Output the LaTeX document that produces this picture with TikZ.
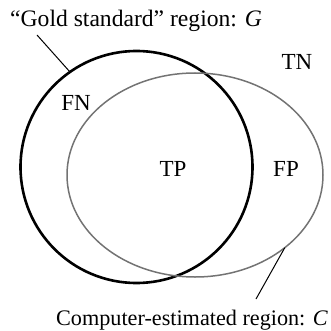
\documentclass[tikz,border=0pt]{standalone}
\usepackage{fontspec}
\setmainfont{Liberation Serif}
\usetikzlibrary{shapes.geometric}
\tikzset{
	region/.style={draw, inner sep=0pt, outer sep=0pt},
	lbl/.style={font=\fontsize{23}{27}\selectfont, inner sep=0pt},
	leader/.style={line width=1pt}
}

\begin{document}
\begin{tikzpicture}[x=1pt, y=-1pt]
		\useasboundingbox (0,0) rectangle (331,331);

		\node[region, circle, minimum size=232pt, line width=2.6pt] (G) at (136.5,167) {};
		\node[region, ellipse, minimum width=256pt, minimum height=204pt, line width=1.5pt, draw=black!55] (C) at (195,175) {};

		\node[lbl, font=\fontsize{23.6}{27}\selectfont, anchor=base west] (gtxt) at (10,27) {“Gold standard” region: \textit{G}};
		\node[lbl, font=\fontsize{22.2}{27}\selectfont, anchor=base east] (ctxt) at (328,325) {Computer-estimated region: \textit{C}};

		\draw[leader] (37,35) -- (G.125);
		\draw[leader] (256,299) -- (C.-39.7);

		\node[lbl] (tn) at (297,62) {TN};
		\node[lbl] (fn) at (76,103) {FN};
		\node[lbl] (tp) at (173,169) {TP};
		\node[lbl] (fp) at (286,169) {FP};
	\end{tikzpicture}
\end{document}
